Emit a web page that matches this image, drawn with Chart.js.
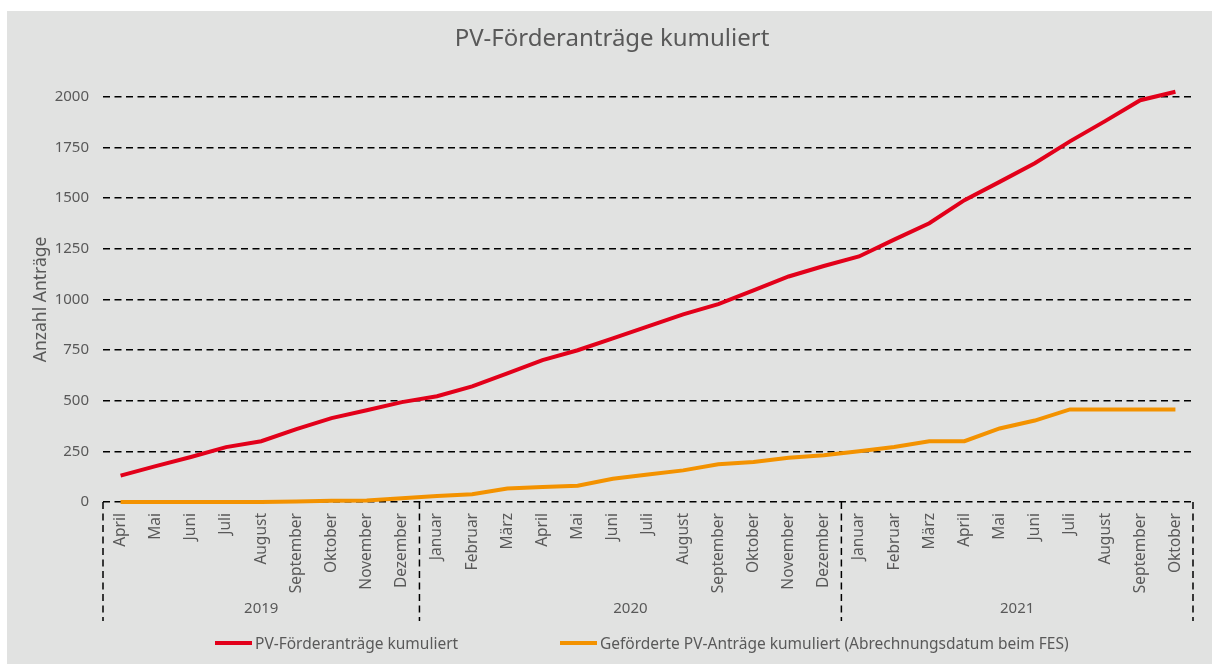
<!DOCTYPE html>
<html>
<head>
<meta charset="utf-8">
<script src="https://cdn.jsdelivr.net/npm/chart.js@4"></script>
<style>
  body { margin: 0; background: #fff; }
  #wrap { position: absolute; left: 7px; top: 11px; width: 1205px; height: 653px; background: #e1e2e1; }
  #legend { position: absolute; top: 621px; left: 0; width: 100%; height: 24px; font: 15.5px "Noto Sans", sans-serif; color: #595959; }
  .item { position: absolute; top: 0; display: flex; align-items: center; white-space: nowrap; }
  .swatch { display: inline-block; width: 37px; height: 4px; margin-right: 3px; }
</style>
</head>
<body>
<div id="wrap">
  <canvas id="lineChart"></canvas>
  <div id="legend"></div>
</div>
<script>
// categories
var months = [
    'April', 'Mai', 'Juni', 'Juli', 'August', 'September', 'Oktober', 'November', 'Dezember',
    'Januar', 'Februar', 'März', 'April', 'Mai', 'Juni', 'Juli', 'August', 'September', 'Oktober', 'November', 'Dezember',
    'Januar', 'Februar', 'März', 'April', 'Mai', 'Juni', 'Juli', 'August', 'September', 'Oktober'
]
var years = ['2019', '2020', '2021']
var monthsPerYear = [9, 12, 10]

// series
var antraege = [130, 177, 222, 271, 300, 360, 414, 453, 493,
    522, 571, 635, 700, 749, 808, 867, 926, 977, 1045, 1113, 1165,
    1212, 1295, 1376, 1490, 1580, 1672, 1780, 1880, 1983, 2025]
var gefoerdert = [0, 0, 0, 0, 0, 2, 6, 8, 18,
    30, 38, 67, 74, 80, 115, 136, 156, 186, 197, 218, 231,
    251, 271, 300, 300, 363, 402, 457, 457, 457, 457]

var seriesNames = ['PV-Förderanträge kumuliert', 'Geförderte PV-Anträge kumuliert (Abrechnungsdatum beim FES)']
var seriesColors = ['#e2001a', '#f39200']

var textColor = '#595959'
var fontFamily = '"Noto Sans", sans-serif'

// year row under the month labels, with dashed separators
var yearRows = {
    id: 'yearRows',
    afterDraw: function (chart) {
        var ctx = chart.ctx
        var x = chart.scales.x
        var half = (x.getPixelForValue(1) - x.getPixelForValue(0)) / 2
        var top = chart.chartArea.bottom
        ctx.save()
        ctx.strokeStyle = '#000'
        ctx.lineWidth = 1.5
        ctx.setLineDash([7, 4.5])
        ctx.fillStyle = textColor
        ctx.font = '15px ' + fontFamily
        ctx.textAlign = 'center'
        ctx.textBaseline = 'middle'
        var start = 0
        for (var i = 0; i < years.length; i++) {
            var end = start + monthsPerYear[i] - 1
            var l = x.getPixelForValue(start) - half
            var r = x.getPixelForValue(end) + half
            ctx.beginPath()
            ctx.moveTo(l, top)
            ctx.lineTo(l, top + 119)
            if (i === years.length - 1) {
                ctx.moveTo(r, top)
                ctx.lineTo(r, top + 119)
            }
            ctx.stroke()
            ctx.fillText(years[i], (l + r) / 2, top + 107)
            start = end + 1
        }
        ctx.restore()
    }
}

var lineCanvas = document.getElementById('lineChart').getContext('2d')
new Chart(lineCanvas, {
    type: 'line',
    data: {
        labels: months,
        datasets: [
            {
                label: seriesNames[0],
                data: antraege,
                borderColor: seriesColors[0],
                backgroundColor: seriesColors[0],
                borderWidth: 4,
                pointRadius: 0,
                tension: 0,
                clip: false
            },
            {
                label: seriesNames[1],
                data: gefoerdert,
                borderColor: seriesColors[1],
                backgroundColor: seriesColors[1],
                borderWidth: 4,
                pointRadius: 0,
                tension: 0,
                clip: false
            }
        ]
    },
    options: {
        maintainAspectRatio: false,
        responsive: true,
        animation: false,
        layout: { padding: { left: 24, right: 19, bottom: 41, top: 0 } },
        plugins: {
            legend: { display: false },
            tooltip: { enabled: false },
            title: {
                display: true,
                text: 'PV-Förderanträge kumuliert',
                color: textColor,
                font: { family: fontFamily, size: 24, weight: 'normal' },
                padding: { top: 14, bottom: 43 }
            }
        },
        scales: {
            x: {
                offset: true,
                grid: { display: false },
                border: { display: false },
                ticks: {
                    autoSkip: false,
                    minRotation: 90,
                    maxRotation: 90,
                    padding: 3,
                    color: textColor,
                    font: { family: fontFamily, size: 15.5 }
                },
                afterFit: function (scale) { scale.height = 121 }
            },
            y: {
                min: 0,
                max: 2000,
                grid: { color: '#000', lineWidth: 1.5, drawTicks: false },
                border: { display: false, dash: [7, 4.5] },
                ticks: {
                    stepSize: 250,
                    padding: 14,
                    color: textColor,
                    font: { family: fontFamily, size: 15 },
                    callback: function (value) { return String(value) }
                },
                title: {
                    display: true,
                    text: 'Anzahl Anträge',
                    color: textColor,
                    padding: 0,
                    font: { family: fontFamily, size: 17.5 }
                },
                afterFit: function (scale) { scale.width = 72 }
            }
        }
    },
    plugins: [yearRows]
})

// legend
var legendLeft = [208, 553]
var legend = document.getElementById('legend')
for (var i = 0; i < seriesNames.length; i++) {
    var item = document.createElement('div')
    item.className = 'item'
    item.style.left = legendLeft[i] + 'px'
    item.innerHTML = '<span class="swatch" style="background:' + seriesColors[i] + '"></span>' + seriesNames[i]
    legend.appendChild(item)
}
</script>
</body>
</html>
